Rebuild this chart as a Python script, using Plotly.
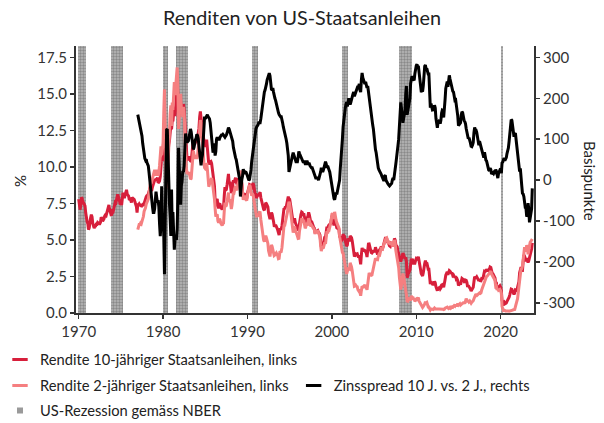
import pandas as pd
import plotly.graph_objects as go

TITLE = "Renditen von US-Staatsanleihen"

START_10Y = "1970-01-01"
START_2Y = "1977-01-01"
START_SPREAD = "1977-01-01"

# Rendite 10-jähriger Staatsanleihen (%), monatlich ab 1970-01
YIELD_10Y = [
    7.79, 7.24, 7.07, 7.39, 7.91, 7.84, 7.46, 7.53, 7.39, 7.33, 6.84, 6.39,
    6.24, 6.11, 5.70, 5.83, 6.39, 6.52, 6.73, 6.58, 6.14, 5.93, 5.81, 5.93,
    5.95, 6.08, 6.07, 6.19, 6.13, 6.11, 6.11, 6.21, 6.55, 6.48, 6.28, 6.36,
    6.46, 6.64, 6.71, 6.67, 6.85, 6.90, 7.13, 7.40, 7.09, 6.79, 6.73, 6.74,
    6.99, 6.96, 7.21, 7.51, 7.58, 7.54, 7.81, 8.04, 8.04, 7.90, 7.68, 7.43,
    7.50, 7.39, 7.73, 8.23, 8.06, 7.86, 8.06, 8.40, 8.43, 8.14, 8.05, 8.00,
    7.74, 7.79, 7.73, 7.56, 7.90, 7.86, 7.83, 7.77, 7.59, 7.41, 7.29, 6.87,
    7.40, 7.39, 7.46, 7.37, 7.46, 7.28, 7.33, 7.40, 7.34, 7.52, 7.58, 7.69,
    7.96, 8.03, 8.04, 8.15, 8.35, 8.46, 8.64, 8.41, 8.42, 8.64, 8.81, 9.01,
    9.10, 9.10, 9.12, 9.18, 9.25, 8.91, 8.95, 9.03, 9.33, 10.30, 10.65, 10.39,
    10.80, 12.41, 13.00, 11.47, 10.18, 9.78, 10.25, 11.10, 11.51, 11.75, 12.68, 12.84,
    12.57, 13.19, 13.12, 13.68, 14.10, 13.47, 14.28, 14.94, 15.60, 15.15, 13.39, 13.72,
    14.59, 14.43, 13.86, 13.87, 13.62, 14.30, 13.95, 13.06, 12.34, 10.91, 10.55, 10.54,
    10.46, 10.72, 10.51, 10.40, 10.38, 10.85, 11.38, 11.85, 11.65, 11.54, 11.69, 11.83,
    11.67, 11.84, 12.32, 12.63, 13.41, 13.80, 13.36, 12.72, 12.52, 12.16, 11.57, 11.50,
    11.38, 11.51, 11.86, 11.43, 10.85, 10.16, 10.31, 10.33, 10.37, 10.24, 9.78, 9.26,
    9.19, 8.70, 7.78, 7.30, 7.71, 7.80, 7.30, 7.17, 7.45, 7.43, 7.25, 7.11,
    7.08, 7.25, 7.25, 8.02, 8.61, 8.40, 8.45, 8.76, 9.42, 9.52, 8.86, 8.99,
    8.67, 8.21, 8.37, 8.72, 9.09, 8.92, 9.06, 9.26, 8.98, 8.80, 8.96, 9.11,
    9.09, 9.17, 9.36, 9.18, 8.86, 8.28, 8.02, 8.11, 8.19, 8.01, 7.87, 7.84,
    8.21, 8.47, 8.59, 8.79, 8.76, 8.48, 8.47, 8.75, 8.89, 8.72, 8.39, 8.08,
    8.09, 7.85, 8.11, 8.04, 8.07, 8.28, 8.27, 7.90, 7.65, 7.53, 7.42, 7.09,
    7.03, 7.34, 7.54, 7.48, 7.39, 7.26, 6.84, 6.59, 6.42, 6.59, 6.87, 6.77,
    6.60, 6.26, 5.98, 5.97, 6.04, 5.96, 5.81, 5.68, 5.36, 5.33, 5.72, 5.77,
    5.75, 5.97, 6.48, 6.97, 7.18, 7.10, 7.30, 7.24, 7.46, 7.74, 7.96, 7.81,
    7.78, 7.47, 7.20, 7.06, 6.63, 6.17, 6.28, 6.49, 6.20, 6.04, 5.93, 5.71,
    5.65, 5.81, 6.27, 6.51, 6.74, 6.91, 6.87, 6.64, 6.83, 6.53, 6.20, 6.30,
    6.58, 6.42, 6.69, 6.89, 6.71, 6.49, 6.22, 6.30, 6.21, 6.03, 5.88, 5.81,
    5.54, 5.57, 5.65, 5.64, 5.65, 5.50, 5.46, 5.34, 4.81, 4.53, 4.83, 4.65,
    4.72, 5.00, 5.23, 5.18, 5.54, 5.90, 5.79, 5.94, 5.92, 6.11, 6.03, 6.28,
    6.66, 6.52, 6.26, 5.99, 6.44, 6.10, 6.05, 5.83, 5.80, 5.74, 5.72, 5.24,
    5.16, 5.10, 4.89, 5.14, 5.39, 5.28, 5.24, 4.97, 4.73, 4.57, 4.65, 5.09,
    5.04, 4.91, 5.28, 5.21, 5.16, 4.93, 4.65, 4.26, 3.87, 3.94, 4.05, 4.03,
    4.05, 3.90, 3.81, 3.96, 3.57, 3.33, 3.98, 4.45, 4.27, 4.29, 4.30, 4.27,
    4.15, 4.08, 3.83, 4.35, 4.72, 4.73, 4.50, 4.28, 4.13, 4.10, 4.19, 4.23,
    4.22, 4.17, 4.50, 4.34, 4.14, 4.00, 4.18, 4.26, 4.20, 4.46, 4.54, 4.47,
    4.42, 4.57, 4.72, 4.99, 5.11, 5.11, 5.09, 4.88, 4.72, 4.73, 4.60, 4.56,
    4.76, 4.72, 4.56, 4.69, 4.75, 5.10, 5.00, 4.67, 4.52, 4.53, 4.15, 4.10,
    3.74, 3.74, 3.51, 3.68, 3.88, 4.10, 4.01, 3.89, 3.69, 3.81, 3.53, 2.42,
    2.52, 2.87, 2.82, 2.93, 3.29, 3.72, 3.56, 3.59, 3.40, 3.39, 3.40, 3.59,
    3.73, 3.69, 3.73, 3.85, 3.42, 3.20, 3.01, 2.70, 2.65, 2.54, 2.76, 3.29,
    3.39, 3.58, 3.41, 3.46, 3.17, 3.00, 3.00, 2.30, 1.98, 2.15, 2.01, 1.98,
    1.97, 1.97, 2.17, 2.05, 1.80, 1.62, 1.53, 1.68, 1.72, 1.75, 1.65, 1.72,
    1.91, 1.98, 1.96, 1.76, 1.93, 2.30, 2.58, 2.74, 2.81, 2.62, 2.72, 2.90,
    2.86, 2.71, 2.72, 2.71, 2.56, 2.60, 2.54, 2.42, 2.53, 2.30, 2.33, 2.21,
    1.88, 1.98, 2.04, 1.94, 2.20, 2.36, 2.32, 2.17, 2.17, 2.07, 2.26, 2.24,
    2.09, 1.78, 1.89, 1.81, 1.81, 1.64, 1.50, 1.56, 1.63, 1.76, 2.14, 2.49,
    2.43, 2.42, 2.48, 2.30, 2.30, 2.19, 2.32, 2.21, 2.20, 2.36, 2.35, 2.40,
    2.58, 2.86, 2.84, 2.87, 2.98, 2.91, 2.89, 2.89, 3.00, 3.15, 3.12, 2.83,
    2.71, 2.68, 2.57, 2.53, 2.40, 2.07, 2.06, 1.63, 1.70, 1.71, 1.81, 1.86,
    1.76, 1.50, 0.87, 0.66, 0.67, 0.73, 0.62, 0.65, 0.68, 0.79, 0.87, 0.93,
    1.08, 1.26, 1.61, 1.64, 1.62, 1.52, 1.32, 1.28, 1.37, 1.58, 1.56, 1.47,
    1.76, 1.93, 2.13, 2.75, 2.90, 3.14, 2.90, 2.90, 3.52, 3.98, 3.89, 3.62,
    3.53, 3.75, 3.66, 3.46, 3.57, 3.75, 3.90, 4.17, 4.38, 4.80,
]

# Rendite 2-jähriger Staatsanleihen (%), monatlich ab 1977-01
YIELD_2Y = [
    5.70, 5.90, 6.05, 6.05, 6.15, 6.10, 6.25, 6.50, 6.60, 6.95, 7.05, 7.20,
    7.45, 7.60, 7.65, 7.80, 8.15, 8.45, 8.90, 8.85, 9.05, 9.30, 9.60, 9.80,
    9.80, 9.55, 9.40, 9.60, 9.80, 9.40, 9.60, 10.10, 10.70, 11.40, 10.80, 11.30,
    11.60, 13.80, 15.30, 12.50, 9.60, 8.55, 9.00, 10.60, 11.70, 12.30, 13.60, 14.20,
    12.80, 14.40, 13.90, 15.00, 15.80, 14.90, 15.70, 16.40, 16.80, 15.60, 12.60, 13.40,
    14.80, 15.00, 14.00, 13.90, 13.40, 14.10, 13.60, 12.00, 11.20, 9.95, 9.60, 9.60,
    9.50, 9.65, 9.40, 9.15, 9.20, 9.85, 10.60, 11.10, 10.85, 10.55, 10.70, 10.80,
    10.55, 10.75, 11.30, 11.80, 12.70, 13.20, 13.00, 12.20, 11.90, 11.20, 10.30, 9.95,
    9.88, 9.96, 10.27, 9.83, 9.30, 8.64, 8.81, 8.93, 9.17, 9.24, 8.98, 8.59,
    8.39, 7.80, 7.18, 6.60, 6.71, 6.75, 6.30, 6.17, 6.45, 6.38, 6.15, 6.01,
    5.98, 6.13, 6.15, 6.97, 7.56, 7.32, 7.35, 7.61, 8.17, 8.24, 7.61, 7.79,
    7.52, 7.11, 7.37, 7.77, 8.29, 8.25, 8.46, 8.71, 8.48, 8.40, 8.76, 9.01,
    9.04, 9.17, 9.76, 9.28, 8.84, 8.18, 7.75, 7.91, 8.04, 7.81, 7.68, 7.69,
    8.11, 8.42, 8.59, 8.77, 8.66, 8.23, 8.02, 8.15, 8.09, 7.77, 7.34, 6.93,
    6.84, 6.55, 6.79, 6.69, 6.67, 6.88, 6.87, 6.40, 6.00, 5.68, 5.42, 4.99,
    4.88, 5.14, 5.29, 5.13, 4.94, 4.76, 4.26, 3.98, 3.87, 4.24, 4.65, 4.57,
    4.35, 4.11, 3.93, 3.97, 4.09, 4.11, 4.01, 3.93, 3.71, 3.73, 4.17, 4.22,
    4.20, 4.47, 5.08, 5.67, 5.98, 6.00, 6.25, 6.24, 6.56, 6.94, 7.36, 7.61,
    7.48, 7.07, 6.75, 6.56, 6.03, 5.50, 5.68, 5.94, 5.70, 5.59, 5.48, 5.26,
    5.10, 5.11, 5.62, 5.91, 6.19, 6.41, 6.42, 6.19, 6.38, 6.08, 5.80, 5.90,
    6.13, 5.97, 6.29, 6.49, 6.31, 6.14, 5.92, 6.00, 5.91, 5.78, 5.73, 5.71,
    5.44, 5.52, 5.60, 5.59, 5.60, 5.50, 5.41, 5.24, 4.61, 4.23, 4.58, 4.45,
    4.47, 4.70, 4.83, 4.73, 5.14, 5.60, 5.44, 5.69, 5.67, 5.91, 5.93, 6.28,
    6.76, 6.82, 6.66, 6.44, 6.92, 6.50, 6.35, 6.18, 6.05, 5.94, 5.82, 5.24,
    4.86, 4.60, 4.19, 4.14, 4.09, 3.78, 3.59, 3.22, 2.88, 2.67, 2.85, 3.09,
    3.04, 3.01, 3.43, 3.31, 3.16, 2.88, 2.55, 2.11, 1.82, 1.84, 1.90, 1.83,
    1.80, 1.60, 1.53, 1.61, 1.37, 1.18, 1.53, 1.83, 1.77, 1.84, 1.90, 1.92,
    1.75, 1.73, 1.58, 2.05, 2.57, 2.75, 2.65, 2.58, 2.58, 2.60, 2.84, 2.98,
    3.22, 3.37, 3.75, 3.67, 3.64, 3.65, 3.88, 4.01, 3.98, 4.26, 4.39, 4.37,
    4.37, 4.57, 4.74, 4.89, 4.99, 5.11, 5.14, 4.96, 4.82, 4.85, 4.74, 4.68,
    4.86, 4.80, 4.56, 4.64, 4.75, 5.00, 4.80, 4.27, 3.97, 3.88, 3.30, 3.10,
    2.44, 2.04, 1.61, 1.93, 2.38, 2.70, 2.51, 2.24, 1.99, 1.71, 1.23, 0.82,
    0.81, 0.98, 0.93, 0.93, 0.93, 1.18, 1.02, 1.12, 0.96, 0.95, 0.80, 0.87,
    0.93, 0.86, 0.96, 1.06, 0.83, 0.72, 0.62, 0.52, 0.47, 0.38, 0.45, 0.62,
    0.61, 0.77, 0.70, 0.73, 0.56, 0.41, 0.41, 0.23, 0.21, 0.28, 0.25, 0.26,
    0.24, 0.28, 0.34, 0.29, 0.29, 0.29, 0.25, 0.27, 0.26, 0.28, 0.27, 0.26,
    0.27, 0.27, 0.26, 0.23, 0.25, 0.33, 0.34, 0.36, 0.40, 0.34, 0.30, 0.34,
    0.39, 0.33, 0.40, 0.42, 0.39, 0.45, 0.51, 0.47, 0.57, 0.45, 0.53, 0.64,
    0.55, 0.62, 0.64, 0.54, 0.61, 0.69, 0.67, 0.70, 0.71, 0.64, 0.88, 0.98,
    0.90, 0.73, 0.88, 0.77, 0.82, 0.73, 0.67, 0.74, 0.77, 0.84, 0.98, 1.20,
    1.21, 1.20, 1.31, 1.24, 1.30, 1.34, 1.37, 1.34, 1.38, 1.57, 1.70, 1.84,
    2.03, 2.18, 2.28, 2.38, 2.51, 2.53, 2.61, 2.64, 2.77, 2.86, 2.86, 2.68,
    2.54, 2.50, 2.41, 2.33, 2.21, 1.81, 1.84, 1.57, 1.65, 1.55, 1.61, 1.61,
    1.52, 1.33, 0.45, 0.22, 0.17, 0.19, 0.14, 0.14, 0.13, 0.14, 0.17, 0.14,
    0.13, 0.12, 0.15, 0.16, 0.16, 0.20, 0.22, 0.22, 0.24, 0.43, 0.58, 0.68,
    0.98, 1.39, 1.91, 2.54, 2.61, 2.99, 3.03, 3.22, 3.86, 4.38, 4.50, 4.29,
    4.21, 4.64, 4.51, 4.02, 4.27, 4.71, 4.83, 4.91, 5.08, 5.07,
]

# Zinsspread 10 J. vs. 2 J. (Basispunkte), monatlich ab 1977-01
SPREAD_BP = [
    160, 150, 141, 132, 131, 118, 108, 90, 74, 57, 53, 49,
    51, 43, 39, 35, 20, 1, -26, -44, -63, -66, -79, -79,
    -70, -45, -28, -42, -55, -49, -65, -107, -137, -110, -15, -91,
    -80, -139, -230, -103, 58, 123, 125, 50, -19, -55, -92, -136,
    -23, -121, -78, -132, -170, -143, -142, -146, -120, -45, 79, 32,
    -21, -60, -14, -3, 22, 20, 35, 106, 114, 96, 95, 94,
    96, 107, 111, 125, 118, 100, 78, 75, 80, 99, 99, 103,
    112, 109, 102, 83, 71, 60, 36, 52, 62, 96, 127, 155,
    150, 155, 159, 160, 155, 152, 150, 140, 120, 100, 80, 67,
    80, 90, 60, 70, 100, 105, 100, 100, 100, 105, 110, 110,
    110, 112, 110, 105, 105, 108, 110, 115, 125, 128, 125, 120,
    115, 110, 100, 95, 80, 67, 60, 55, 50, 40, 20, 10,
    5, 0, -40, -10, 2, 10, 27, 20, 15, 20, 19, 15,
    10, 5, 0, 2, 10, 25, 45, 60, 80, 95, 105, 115,
    125, 130, 132, 135, 140, 140, 140, 150, 165, 185, 200, 210,
    215, 220, 225, 235, 245, 250, 258, 261, 255, 235, 222, 220,
    225, 215, 205, 200, 195, 185, 180, 175, 165, 160, 155, 155,
    155, 150, 140, 130, 120, 110, 105, 100, 90, 80, 60, 20,
    30, 40, 45, 50, 60, 67, 60, 55, 50, 45, 45, 45,
    55, 70, 65, 60, 55, 50, 45, 45, 45, 45, 40, 40,
    45, 45, 40, 40, 40, 35, 30, 30, 30, 25, 15, 10,
    10, 5, 5, 5, 5, 0, 5, 10, 20, 30, 25, 20,
    25, 30, 40, 45, 40, 30, 35, 25, 25, 20, 10, 0,
    -10, -30, -40, -45, -48, -40, -30, -35, -25, -20, -10, 0,
    30, 50, 70, 100, 130, 150, 165, 175, 185, 190, 180, 200,
    200, 190, 185, 190, 200, 205, 210, 215, 205, 210, 215, 220,
    225, 230, 228, 235, 220, 215, 245, 262, 250, 245, 240, 235,
    240, 235, 225, 230, 215, 198, 185, 170, 155, 150, 135, 125,
    100, 80, 75, 67, 50, 35, 30, 25, 22, 20, 15, 10,
    5, 0, -2, 10, 12, 0, -5, -8, -10, -12, -14, -12,
    -10, -8, 0, 5, 0, 10, 20, 40, 55, 65, 85, 100,
    130, 170, 190, 175, 150, 140, 150, 165, 170, 210, 230, 160,
    171, 189, 189, 200, 236, 254, 254, 247, 244, 244, 260, 272,
    280, 283, 277, 279, 259, 248, 239, 218, 218, 216, 231, 267,
    278, 281, 271, 273, 261, 259, 259, 207, 177, 187, 176, 172,
    173, 169, 183, 176, 151, 133, 128, 141, 146, 147, 138, 146,
    164, 171, 170, 153, 168, 197, 224, 238, 241, 228, 242, 256,
    247, 238, 232, 229, 217, 215, 203, 195, 196, 185, 180, 157,
    133, 136, 140, 140, 159, 167, 165, 147, 146, 143, 138, 126,
    119, 105, 101, 104, 99, 91, 83, 82, 86, 92, 116, 129,
    122, 122, 117, 106, 100, 85, 95, 87, 82, 79, 65, 56,
    55, 68, 56, 49, 47, 38, 28, 25, 23, 29, 26, 15,
    17, 18, 16, 20, 19, 26, 22, 6, 5, 16, 20, 25,
    24, 17, 42, 44, 50, 54, 48, 51, 55, 65, 70, 79,
    95, 114, 146, 148, 146, 132, 110, 106, 113, 115, 98, 79,
    78, 54, 22, 21, 29, 15, -13, -32, -34, -40, -61, -67,
    -68, -89, -85, -56, -70, -103, -93, -74, -70, -20,
]

# US-Rezessionen gemäss NBER
RECESSION_START = ["1969-12-01", "1973-11-01", "1980-01-01", "1981-07-01",
                   "1990-07-01", "2001-03-01", "2007-12-01", "2020-02-01"]
RECESSION_END = ["1970-11-30", "1975-03-31", "1980-07-31", "1982-11-30",
                 "1991-03-31", "2001-11-30", "2009-06-30", "2020-04-30"]

X_TICK_YEARS = [1970, 1980, 1990, 2000, 2010, 2020]
LEFT_TICKS = [0.0, 2.5, 5.0, 7.5, 10.0, 12.5, 15.0, 17.5]
RIGHT_TICKS = [-300, -200, -100, 0, 100, 200, 300]

NAME_10Y = "Rendite 10-jähriger Staatsanleihen, links"
NAME_2Y = "Rendite 2-jähriger Staatsanleihen, links"
NAME_SPREAD = "Zinsspread 10 J. vs. 2 J., rechts"
NAME_REC = "US-Rezession gemäss NBER"
LEFT_TITLE = "%"
RIGHT_TITLE = "Basispunkte"

# styling / layout
RED = "#d71f3b"
PINK = "#f57f80"
BLACK = "#000000"
AXIS = "#333333"
TXT = "#222222"
FONT = "Lato"
W, H = 604, 423
ML, MR, MT, MB = 76, 70, 46, 110
PW, PH = W - ML - MR, H - MT - MB
X_RANGE = ["1969-09-06", "2023-12-14"]
Y_LEFT_RANGE = [0, 18.27]
Y_RIGHT_RANGE = [-324.4, 327.6]


def px_to_paper_x(px):
    return (px - ML) / PW


def px_to_paper_y(py):
    return (H - MB - py) / PH


d10 = pd.date_range(START_10Y, periods=len(YIELD_10Y), freq="MS")
d2 = pd.date_range(START_2Y, periods=len(YIELD_2Y), freq="MS")
ds = pd.date_range(START_SPREAD, periods=len(SPREAD_BP), freq="MS")

rs = pd.to_datetime(RECESSION_START)
re_ = pd.to_datetime(RECESSION_END) + pd.Timedelta(days=1)
rec_mid = rs + (re_ - rs) / 2
rec_w = [(e - s).total_seconds() * 1000 for s, e in zip(rs, re_)]

fig = go.Figure()

fig.add_trace(go.Bar(
    x=rec_mid, y=[Y_LEFT_RANGE[1]] * len(rs), base=0, width=rec_w,
    marker=dict(color="#b8b8b8", line=dict(width=0),
                pattern=dict(shape=".", fgcolor="#5a5a5a", size=3, solidity=0.5)),
    showlegend=False, hoverinfo="skip", yaxis="y",
))

fig.add_trace(go.Scatter(x=d10, y=YIELD_10Y, mode="lines", line=dict(color=RED, width=3),
                         showlegend=False, yaxis="y"))
fig.add_trace(go.Scatter(x=d2, y=YIELD_2Y, mode="lines", line=dict(color=PINK, width=3),
                         showlegend=False, yaxis="y"))
fig.add_trace(go.Scatter(x=ds, y=SPREAD_BP, mode="lines", line=dict(color=BLACK, width=3),
                         showlegend=False, yaxis="y2"))


def leg(name, legend, symbol, color, size, lw):
    fig.add_trace(go.Scatter(
        x=[None], y=[None], mode="markers", name=name, legend=legend,
        marker=dict(symbol=symbol, size=size, color=color,
                    line=dict(width=lw, color=color)),
        showlegend=True, hoverinfo="skip",
    ))


leg(NAME_10Y, "legend", "line-ew", RED, 11, 3)
leg(NAME_2Y, "legend2", "line-ew", PINK, 11, 3)
leg(NAME_SPREAD, "legend2", "line-ew", BLACK, 11, 3)
leg(NAME_REC, "legend3", "square", "#9a9a9a", 6, 0)

leg_common = dict(orientation="h", xanchor="left", yanchor="middle",
                  bgcolor="rgba(0,0,0,0)", itemwidth=30,
                  font=dict(family=FONT, size=14.7, color=TXT), itemclick=False,
                  itemdoubleclick=False, tracegroupgap=0)
LEG_X = px_to_paper_x(0)

fig.update_layout(
    width=W, height=H,
    margin=dict(l=ML, r=MR, t=MT, b=MB, autoexpand=False),
    plot_bgcolor="white", paper_bgcolor="white",
    font=dict(family=FONT, size=15, color=AXIS),
    bargap=0,
    title=dict(text=TITLE, x=0.5, xref="container", xanchor="center",
               y=1 - 18 / H, yref="container", yanchor="middle",
               font=dict(family=FONT, size=19.8, color=TXT)),
    legend=dict(x=LEG_X, y=px_to_paper_y(360), **leg_common),
    legend2=dict(x=LEG_X, y=px_to_paper_y(386), **leg_common),
    legend3=dict(x=LEG_X, y=px_to_paper_y(411), **leg_common),
    xaxis=dict(type="date", range=X_RANGE,
               tickvals=[f"{y}-01-01" for y in X_TICK_YEARS],
               ticktext=[str(y) for y in X_TICK_YEARS],
               showgrid=False, zeroline=False, showline=True, linecolor=AXIS,
               linewidth=2, ticks="outside", ticklen=4, tickwidth=1.5, tickcolor=AXIS,
               tickfont=dict(size=15, color=AXIS)),
    yaxis=dict(range=Y_LEFT_RANGE, tickvals=LEFT_TICKS,
               ticktext=[f"{v:.1f}" for v in LEFT_TICKS],
               showgrid=False, zeroline=False, showline=True, linecolor=AXIS,
               linewidth=2, ticks="outside", ticklen=4, tickwidth=1.5, tickcolor=AXIS,
               tickfont=dict(size=15, color=AXIS)),
    yaxis2=dict(range=Y_RIGHT_RANGE, overlaying="y", side="right", tickvals=RIGHT_TICKS,
                ticktext=[str(v) for v in RIGHT_TICKS],
                showgrid=False, zeroline=False, showline=True, linecolor=AXIS,
                linewidth=2, ticks="outside", ticklen=4, tickwidth=1.5, tickcolor=AXIS,
                tickfont=dict(size=15, color=AXIS)),
    annotations=[
        dict(text=LEFT_TITLE, xref="paper", yref="paper", x=px_to_paper_x(20),
             y=px_to_paper_y(181), xanchor="center", yanchor="middle", showarrow=False,
             textangle=-90, font=dict(family=FONT, size=15, color=TXT)),
        dict(text=RIGHT_TITLE, xref="paper", yref="paper", x=px_to_paper_x(590),
             y=px_to_paper_y(181), xanchor="center", yanchor="middle", showarrow=False,
             textangle=90, font=dict(family=FONT, size=15, color=TXT)),
    ],
)

fig.write_html("out.html",
               config={"displayModeBar": False, "staticPlot": True},
               post_script="document.body.style.margin='0';document.body.style.padding='0';")
